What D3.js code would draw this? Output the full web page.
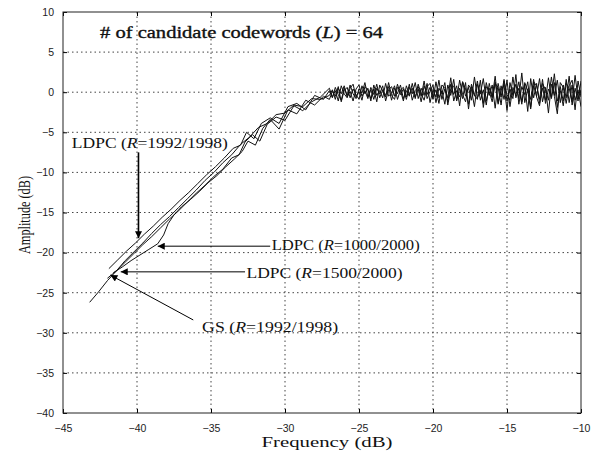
<!DOCTYPE html>
<html>
<head>
<meta charset="utf-8">
<script src="https://cdn.jsdelivr.net/npm/d3@7/dist/d3.min.js"></script>
<style>
  body { margin: 0; background: #fff; }
  .tick text { font-family: "Liberation Sans", Arial, sans-serif; font-size: 10.5px; fill: #222; }
  .serif { font-family: "Liberation Serif", "Times New Roman", serif; fill: #111; }
</style>
</head>
<body>
<div class="chart"></div>
<script>
'use strict';

// axis ticks
var xTicks = [-45, -40, -35, -30, -25, -20, -15, -10];
var yTicks = [-40, -35, -30, -25, -20, -15, -10, -5, 0, 5, 10];

// rising part of each curve (frequency dB, amplitude dB)
var gsX  = [-43.2,-42.6,-42,-41.4,-40.8,-40.2,-39.6,-39,-38.4,-37.8,-37.2,-36.6,-36,-35.4,-34.8,-34.2,-33.6,-33,-32.4,-31.8,-31.2,-30.6,-30,-29.4,-28.8,-28.2,-27.6];
var gsY  = [-26.2,-24.9,-23.5,-22.3,-21.0,-19.9,-18.8,-17.6,-16.5,-15.5,-14.4,-13.3,-12.2,-11.0,-10.0,-8.8,-7.8,-6.5,-5.6,-4.4,-3.9,-2.8,-2.6,-1.6,-1.8,-0.8,-0.9];

var l1992X = [-41.9,-41.3,-40.7,-40.1,-39.5,-38.9,-38.3,-37.7,-37.1,-36.5,-35.9,-35.3,-34.7,-34.1,-33.5,-33.0,-32.6,-32.1,-31.6,-31.0,-30.4,-29.8,-29.2,-28.6,-28.0,-27.4];
var l1992Y = [-22.0,-20.9,-19.8,-18.8,-17.7,-16.7,-15.6,-14.6,-13.5,-12.5,-11.4,-10.3,-9.3,-8.2,-7.0,-6.6,-5.0,-5.8,-3.9,-3.2,-3.9,-1.8,-1.4,-2.2,-0.4,-0.9];

var l1000X = [-41.6,-41.0,-40.4,-39.8,-39.2,-38.6,-38.2,-37.9,-37.5,-37.0,-36.4,-35.8,-35.2,-34.6,-34.0,-33.4,-32.9,-32.5,-32.0,-31.5,-31.0,-30.4,-29.8,-29.2,-28.6,-28.0,-27.4];
var l1000Y = [-22.5,-21.8,-21.0,-20.3,-19.6,-18.9,-17.8,-16.4,-15.3,-14.3,-13.4,-12.4,-11.3,-10.4,-9.3,-8.3,-7.4,-6.1,-6.6,-4.5,-3.4,-4.6,-2.2,-2.7,-1.0,-1.6,-0.5];

var l1500X = [-42.0,-41.4,-40.8,-40.2,-39.6,-39.0,-38.4,-37.8,-37.2,-36.6,-36.0,-35.4,-34.8,-34.2,-33.6,-33.1,-32.7,-32.2,-31.7,-31.2,-30.6,-30.0,-29.4,-28.8,-28.2,-27.6];
var l1500Y = [-23.2,-22.3,-21.2,-20.1,-19.0,-18.0,-16.9,-15.8,-14.8,-13.7,-12.6,-11.6,-10.5,-9.6,-8.2,-7.8,-6.2,-5.3,-6.1,-4.0,-3.1,-3.5,-1.7,-2.3,-1.2,-0.6];

// flat noisy part, sampled every 0.2 dB from -27 dB up to -10 dB
var noiseStart = -27, noiseStep = 0.2;
var gsNoise = [-0.4,0.3,-0.9,0.5,-0.2,0.8,-0.6,0.1,-1.1,0.4, 0.9,-0.5,0.2,-0.8,0.6,-0.3,1.0,-0.7,0.3,-0.4,
  0.7,-1.0,0.5,-0.2,0.9,-0.8,0.2,-0.5,1.1,-0.6, 0.4,-1.2,0.8,-0.3,0.6,-0.9,1.3,-0.7,0.2,-1.5,
  0.9,-0.4,1.6,-1.1,0.5,-0.8,1.2,-2.1,0.7,-0.5, 1.4,-1.0,0.3,-1.6,1.1,-0.6,2.0,-1.3,0.8,-0.9,
  1.5,-1.8,0.6,-0.4,1.3,-1.2,0.9,-2.4,1.7,-0.7, 1.1,-1.4,0.5,-1.0,1.8,-0.8,1.2,-1.9,0.7,-1.1,
  1.6,-1.3,0.9,-2.2,1.4,-0.6];
var l1992Noise = [0.2,-0.7,0.6,-0.3,-1.0,0.5,-0.4,0.9,-0.2,-0.8, 0.4,-0.1,1.2,-0.6,0.3,-0.9,0.5,-0.2,0.8,-1.1,
  0.3,0.7,-0.5,1.0,-0.3,0.4,-0.9,0.6,-0.2,1.2, -0.8,0.5,-0.4,1.1,-1.3,0.3,-0.6,1.5,-0.9,0.4,
  -1.2,1.0,-0.3,0.8,-1.7,1.3,-0.5,0.6,-1.0,1.9, -0.7,0.2,-1.4,1.2,-0.4,0.9,-2.0,1.1,-0.6,1.6,
  -1.1,0.4,-0.8,2.2,-1.5,0.7,-0.3,1.3,-1.9,0.8, -0.5,1.7,-1.2,0.6,-2.6,1.0,-0.4,1.5,-1.3,0.9,
  -0.7,2.0,-1.6,0.5,-1.1,1.4];
var l1000Noise = [-0.9,0.1,-0.5,0.7,-1.2,0.2,0.6,-0.7,0.4,-0.3, -0.9,0.8,-0.2,0.5,-1.1,0.9,-0.4,0.2,-0.7,1.1,
  -0.5,-0.1,0.8,-0.9,0.3,0.6,-0.6,1.0,-1.0,0.2, 0.7,-0.5,1.4,-0.8,0.1,0.9,-1.3,0.5,-0.2,1.2,
  -1.6,0.4,0.8,-0.9,1.5,-0.3,-1.2,0.9,0.3,-1.8, 1.0,-0.2,1.7,-1.1,0.5,-0.7,1.3,-1.5,0.2,0.9,
  -2.3,1.2,-0.4,1.0,-0.8,2.4,-1.3,0.4,-0.9,1.6, -0.6,-1.7,1.1,0.3,-1.0,1.9,-0.5,-2.7,1.2,0.6,
  -1.4,0.8,1.5,-1.0,0.3,-1.8];
var l1500Noise = [0.5,-0.6,0.2,-1.1,0.8,-0.2,-0.7,0.5,1.0,-0.6, 0.1,-1.0,0.7,0.3,-0.8,0.4,-1.2,0.9,0.1,-0.6,
  1.2,-0.4,-0.9,0.6,0.2,-1.1,0.8,-0.3,0.5,-0.8, 1.0,-0.2,-1.0,0.7,1.1,-0.6,0.3,-1.4,0.9,0.5,
  -0.7,1.8,-1.1,0.2,-0.6,1.3,0.4,-1.5,1.0,-0.3, -0.9,1.5,-1.9,0.7,0.1,-1.2,1.1,0.6,-1.6,1.4,
  -0.3,-1.0,1.9,-0.7,0.5,-1.5,1.2,0.2,-2.1,1.3, 0.8,-0.9,1.6,-1.4,0.4,-0.6,2.3,-1.1,0.2,-1.7,
  1.1,0.5,-1.2,2.1,-0.8,0.3];

var labels = ["LDPC (R=1992/1998)", "LDPC (R=1000/2000)", "LDPC (R=1500/2000)", "GS (R=1992/1998)"];

var W = 596, H = 457;
var margin = { top: 12, right: 15, bottom: 44, left: 63 };
var svgSize = { w: W - margin.left - margin.right, h: H - margin.top - margin.bottom };

var svg = d3.select(".chart").append("svg")
  .attr("width", W).attr("height", H);

var chart = svg.append("g")
  .attr("transform", "translate(" + margin.left + "," + margin.top + ")");

var xScale = d3.scaleLinear().domain([-45, -10]).range([0, svgSize.w]);
var yScale = d3.scaleLinear().domain([-40, 10]).range([svgSize.h, 0]);

// dotted grid
chart.append("g").selectAll("line").data(xTicks.slice(1, -1)).enter().append("line")
  .attr("x1", d => xScale(d)).attr("x2", d => xScale(d))
  .attr("y1", 0).attr("y2", svgSize.h)
  .attr("stroke", "#444").attr("stroke-width", 1).attr("stroke-dasharray", "1.5,3");
chart.append("g").selectAll("line").data(yTicks.slice(1, -1)).enter().append("line")
  .attr("y1", d => yScale(d)).attr("y2", d => yScale(d))
  .attr("x1", 0).attr("x2", svgSize.w)
  .attr("stroke", "#444").attr("stroke-width", 1).attr("stroke-dasharray", "1.5,3");

// axes with inward ticks
var xAxis = d3.axisBottom(xScale).tickValues(xTicks).tickSizeInner(-4).tickSizeOuter(0).tickPadding(12);
var yAxis = d3.axisLeft(yScale).tickValues(yTicks).tickSizeInner(-4).tickSizeOuter(0).tickPadding(9);

chart.append("g").attr("transform", "translate(0," + svgSize.h + ")").call(xAxis)
  .call(g => g.select(".domain").remove());
chart.append("g").call(yAxis)
  .call(g => g.select(".domain").remove());
chart.append("g")
  .call(d3.axisTop(xScale).tickValues(xTicks).tickSizeInner(-4).tickSizeOuter(0).tickFormat(""))
  .call(g => g.select(".domain").remove());
chart.append("g").attr("transform", "translate(" + svgSize.w + ",0)")
  .call(d3.axisRight(yScale).tickValues(yTicks).tickSizeInner(-4).tickSizeOuter(0).tickFormat(""))
  .call(g => g.select(".domain").remove());

chart.append("rect").attr("width", svgSize.w).attr("height", svgSize.h)
  .attr("fill", "none").attr("stroke", "#222").attr("stroke-width", 1);

// build curves
function buildCurve(rx, ry, noise) {
  var pts = rx.map((x, i) => [x, ry[i]]);
  noise.forEach((v, i) => pts.push([noiseStart + i * noiseStep, v]));
  return pts;
}
var curves = [
  buildCurve(l1992X, l1992Y, l1992Noise),
  buildCurve(l1000X, l1000Y, l1000Noise),
  buildCurve(l1500X, l1500Y, l1500Noise),
  buildCurve(gsX, gsY, gsNoise)
];

var line = d3.line().x(d => xScale(d[0])).y(d => yScale(d[1]));
chart.append("clipPath").attr("id", "clip").append("rect")
  .attr("width", svgSize.w).attr("height", svgSize.h);

chart.append("g").attr("clip-path", "url(#clip)").selectAll("path").data(curves).enter().append("path")
  .attr("d", line).attr("fill", "none").attr("stroke", "#111").attr("stroke-width", 1);

// arrow marker
svg.append("defs").append("marker").attr("id", "arr")
  .attr("viewBox", "0 0 10 10").attr("refX", 10).attr("refY", 5)
  .attr("markerWidth", 10).attr("markerHeight", 7).attr("orient", "auto")
  .attr("markerUnits", "userSpaceOnUse")
  .append("path").attr("d", "M0,0L10,5L0,10z").attr("fill", "#000");

// annotation arrows and label anchors (data coords)
var arrowFrom = [[-39.9, -7.5], [-31.0, -19.2], [-32.7, -22.4], [-36.2, -28.4]];
var arrowTo   = [[-39.9, -18.2], [-38.6, -19.2], [-41.1, -22.4], [-41.8, -22.8]];
var labelAt   = [[-44.4, -6.96], [-30.9, -19.7], [-32.6, -23.2], [-35.6, -29.9]];
var labelLen  = [156, 148, 156, 136];

chart.append("g").selectAll("line").data(arrowFrom).enter().append("line")
  .attr("x1", d => xScale(d[0])).attr("y1", d => yScale(d[1]))
  .attr("x2", (d, i) => xScale(arrowTo[i][0])).attr("y2", (d, i) => yScale(arrowTo[i][1]))
  .attr("stroke", "#000").attr("stroke-width", (d, i) => i == 0 ? 1.6 : 1)
  .attr("marker-end", "url(#arr)");

var lab = chart.append("g").selectAll("text").data(labels).enter().append("text")
  .attr("class", "serif")
  .attr("x", (d, i) => xScale(labelAt[i][0])).attr("y", (d, i) => yScale(labelAt[i][1]))
  .attr("font-size", 14)
  .attr("textLength", (d, i) => labelLen[i]).attr("lengthAdjust", "spacingAndGlyphs");
lab.each(function (d) {
  var parts = d.split("R");
  var t = d3.select(this);
  t.append("tspan").text(parts[0]);
  t.append("tspan").attr("font-style", "italic").text("R");
  t.append("tspan").text(parts[1]);
});

// title inside plot
var title = chart.append("text").attr("class", "serif")
  .attr("x", xScale(-42.5)).attr("y", yScale(6.76))
  .attr("font-size", 16).attr("stroke", "#111").attr("stroke-width", 0.35)
  .attr("textLength", 283).attr("lengthAdjust", "spacingAndGlyphs");
title.append("tspan").text("# of candidate codewords (");
title.append("tspan").attr("font-style", "italic").text("L");
title.append("tspan").text(") = 64");

// axis labels
svg.append("text").attr("class", "serif")
  .attr("x", 327).attr("y", 447).attr("text-anchor", "middle")
  .attr("font-size", 15).attr("textLength", 131).attr("lengthAdjust", "spacingAndGlyphs")
  .text("Frequency (dB)");
svg.append("text").attr("class", "serif")
  .attr("transform", "translate(30,215) rotate(-90)").attr("text-anchor", "middle")
  .attr("font-size", 16.5).attr("textLength", 78).attr("lengthAdjust", "spacingAndGlyphs")
  .text("Amplitude (dB)");
</script>
</body>
</html>
